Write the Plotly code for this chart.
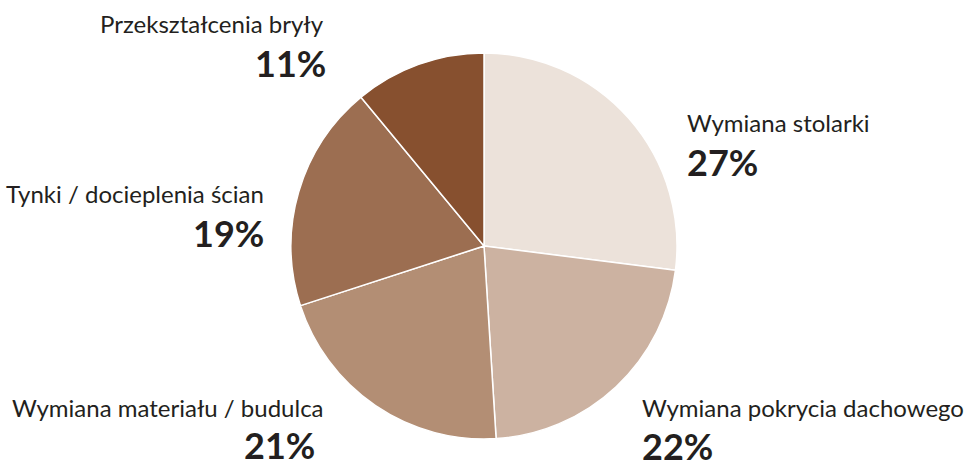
import plotly.graph_objects as go

categories = ["Wymiana stolarki", "Wymiana pokrycia dachowego", "Wymiana materiału / budulca",
              "Tynki / docieplenia ścian", "Przekształcenia bryły"]
values = [27, 22, 21, 19, 11]
colors = ["#ECE2DA", "#CCB2A1", "#B38E74", "#9C6E51", "#87502F"]

W, H = 965, 460
fig = go.Figure(go.Pie(
    labels=categories, values=values, sort=False, direction="clockwise", rotation=0,
    marker=dict(colors=colors, line=dict(color="white", width=1.5)),
    textinfo="none", hoverinfo="label+percent",
    domain=dict(x=[291 / W, 677 / W], y=[21 / H, 407 / H]),
))

# label placement (pixel positions): (label_x, label_mid_y, pct_x, pct_mid_y, anchor for label, anchor for pct)
place = [
    (685, 122, 685, 162, "left", "left"),
    (640, 407, 640, 446, "left", "left"),
    (10, 407, 317, 445, "left", "right"),
    (266, 193, 266, 233, "right", "right"),
    (326, 23, 328, 63, "right", "right"),
]
annotations = []
for cat, val, (lx, ly, px, py, la, pa) in zip(categories, values, place):
    annotations.append(dict(x=lx / W, y=1 - ly / H, xref="paper", yref="paper", text=cat,
                            showarrow=False, xanchor=la, yanchor="middle",
                            font=dict(family="Lato", size=24, color="#231f20")))
    annotations.append(dict(x=px / W, y=1 - py / H, xref="paper", yref="paper",
                            text=f"<b>{val}%</b>", showarrow=False, xanchor=pa, yanchor="middle",
                            font=dict(family="Lato", size=36, color="#231f20")))

fig.update_layout(width=W, height=H, margin=dict(l=0, r=0, t=0, b=0),
                  paper_bgcolor="white", plot_bgcolor="white", showlegend=False,
                  annotations=annotations)
fig.write_html("out.html", config={"displayModeBar": False},
               post_script="document.body.style.margin='0';document.body.style.overflow='hidden';")
